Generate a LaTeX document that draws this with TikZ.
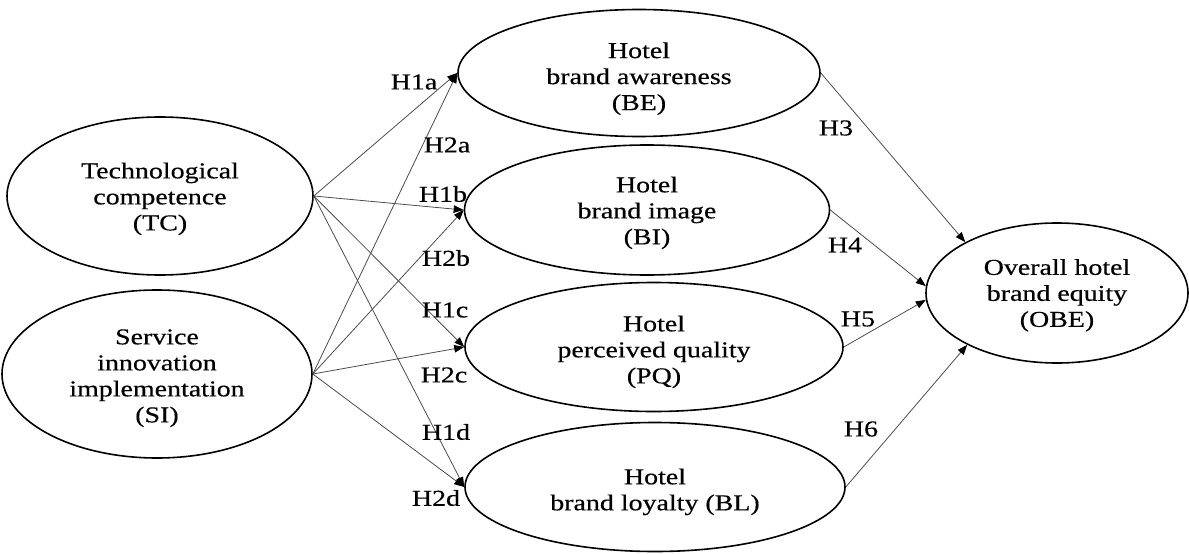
\documentclass[tikz,border=0pt]{standalone}
\usepackage{fontspec}
\setmainfont{Liberation Serif}[FakeStretch=1.23,FakeBold=0.4]
\usetikzlibrary{shapes.geometric,arrows.meta}
\newcommand\lbfont{\fontsize{22.7}{26}\selectfont}
\newcommand\tup[1]{\rule{0pt}{#1pt}}
\begin{document}
\begin{tikzpicture}[x=1pt,y=-1pt,
  lat/.style={ellipse, draw, line width=1.6pt, inner sep=0pt, align=center, font=\lbfont},
  lab/.style={inner sep=0pt, font=\lbfont},
  arr/.style={-{Triangle[length=10pt,width=7.5pt,color=black]}, line width=0.8pt, draw=black!70}]
\useasboundingbox (0,0) rectangle (1189,554);
% latent constructs
\node[lat, minimum width=306pt, minimum height=158pt] (TC) at (160,196) {\tup{21.5}Technological\\competence\\(TC)};
\node[lat, minimum width=310pt, minimum height=168pt] (SI) at (157,374) {\tup{23.5}Service\\innovation\\implementation\\(SI)};
\node[lat, minimum width=362pt, minimum height=127pt] (BE) at (639,73) {\tup{27}Hotel\\brand awareness\\(BE)};
\node[lat, minimum width=365pt, minimum height=130pt] (BI) at (647,210) {\tup{21.5}Hotel\\brand image\\(BI)};
\node[lat, minimum width=378pt, minimum height=129pt] (PQ) at (654,347) {\tup{25.5}Hotel\\perceived quality\\(PQ)};
\node[lat, minimum width=380pt, minimum height=129pt] (BL) at (655,487) {\tup{25.5}Hotel\\brand loyalty (BL)};
\node[lat, minimum width=262pt, minimum height=140pt] (OBE) at (1057,293) {\tup{20.5}Overall hotel\\brand equity\\(OBE)};
% paths
\foreach \t in {BE,BI,PQ,BL} {
  \draw[arr] (TC.east) -- (\t.west);
  \draw[arr] (SI.east) -- (\t.west);
}
\draw[arr] (BE.east) -- (OBE.151);
\draw[arr] (BI.east) -- (OBE.177);
\draw[arr] (PQ.east) -- (OBE.183);
\draw[arr] (BL.east) -- (OBE.210);
% labels
\node[lab] (l1a) at (414,82) {H1a};
\node[lab] (l2a) at (447,145) {H2a};
\node[lab] (l1b) at (443,194) {H1b};
\node[lab] (l2b) at (446,258) {H2b};
\node[lab] (l1c) at (445,310) {H1c};
\node[lab] (l2c) at (444,375) {H2c};
\node[lab] (l1d) at (446,432) {H1d};
\node[lab] (l2d) at (436,498) {H2d};
\node[lab] (l3) at (836,128) {H3};
\node[lab] (l4) at (845,245) {H4};
\node[lab] (l5) at (858,319) {H5};
\node[lab] (l6) at (861,429) {H6};
\end{tikzpicture}
\end{document}
